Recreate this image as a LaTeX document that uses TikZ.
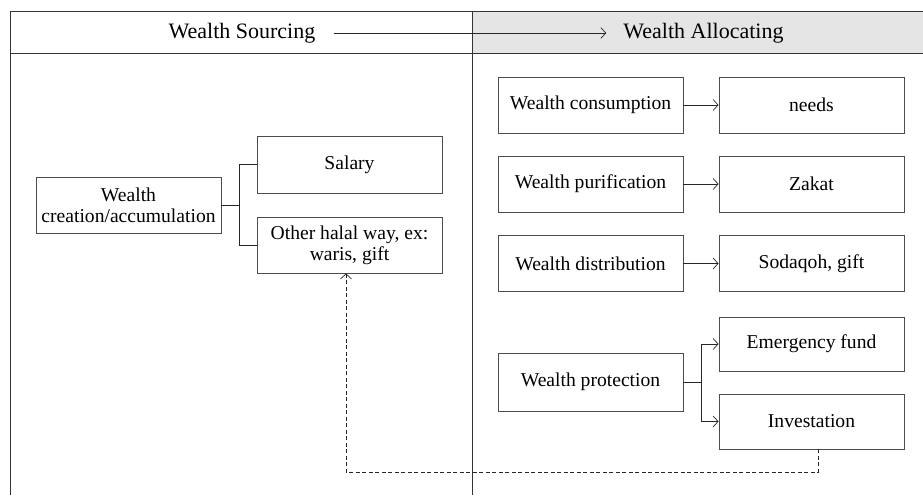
\documentclass[tikz,border=0pt]{standalone}
\usepackage{fontspec}
\setmainfont{Liberation Serif}
\usetikzlibrary{arrows.meta}
\begin{document}
\begin{tikzpicture}[x=1pt,y=-1pt,
  box/.style={draw=black!70,line width=0.9pt,minimum width=185pt,minimum height=56pt,inner sep=2pt,align=center,font=\fontsize{19.6}{21}\selectfont},
  hdr/.style={inner sep=0pt,font=\fontsize{22}{24}\selectfont},
  conn/.style={draw=black!85,line width=0.8pt},
  arr/.style={conn,-{Straight Barb[length=5pt,width=11pt,line width=0.7pt]}},
  frame/.style={draw=black!80,line width=1pt}]
\useasboundingbox (0,0) rectangle (923,495);
% header
\fill[black!10] (472,12) rectangle (923,54);
\draw[frame] (10,12) -- (923,12);
\draw[frame] (10,54) -- (923,54);
\draw[frame] (10,12) -- (10,495);
\draw[frame] (472,12) -- (472,495);
\node[hdr] (hs) at (242,33) {Wealth Sourcing};
\node[hdr] (ha) at (703.5,33) {Wealth Allocating};
\draw[arr] ([xshift=18pt]hs.east) -- ([xshift=-17pt]ha.west);
% left side
\node[box] (creation) at (128.5,205.5) {Wealth\\creation/accumulation};
\node[box,minimum height=57pt] (salary) at (349.5,164.5) {Salary};
\node[box] (other) at (349.5,245) {Other halal way, ex:\\waris, gift};
\draw[conn] (creation.east) -- ++(18,0) |- (salary.west);
\draw[conn] (creation.east) -- ++(18,0) |- (other.west);
% right side
\node[box] (cons) at (590.5,105) {Wealth consumption};
\node[box] (needs) at (811.5,105) {needs};
\node[box] (puri) at (590.5,184) {Wealth purification};
\node[box] (zakat) at (811.5,184) {Zakat};
\node[box] (dist) at (590.5,263.5) {Wealth distribution};
\node[box] (soda) at (811.5,263.5) {Sodaqoh, gift};
\node[box,minimum height=58pt] (prot) at (590.5,382) {Wealth protection};
\node[box,minimum height=54pt] (emer) at (811.5,344) {Emergency fund};
\node[box,minimum height=55pt] (inv) at (811.5,421.5) {Investation};
\draw[arr] (cons) -- (needs);
\draw[arr] (puri) -- (zakat);
\draw[arr] (dist) -- (soda);
\draw[arr] (prot.east) -- ++(18,0) |- (emer.west);
\draw[arr] (prot.east) -- ++(18,0) |- (inv.west);
% feedback
\coordinate (dc) at (346,472);
\draw[arr,dashed,dash pattern=on 4pt off 2.5pt] ([xshift=6.5pt]inv.south) |- (dc) -- (dc |- other.south);
\end{tikzpicture}
\end{document}
